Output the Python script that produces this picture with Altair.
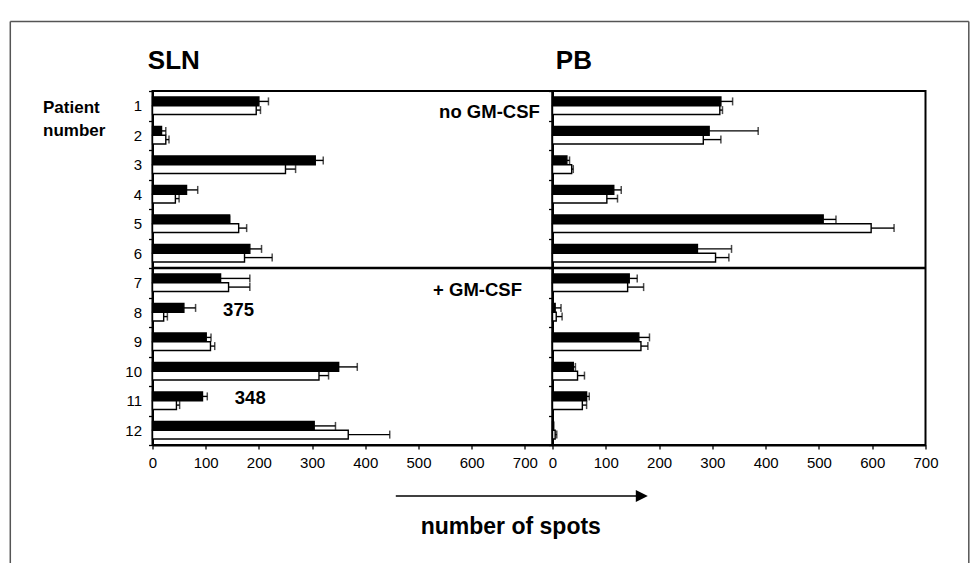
import altair as alt
import pandas as pd

# ---------------- data ----------------
patients = list(range(1, 13))
series_names = ["black", "white"]

# SLN panel (number of spots) and SD (error-bar length)
sln_black = [200, 17, 306, 64, 145, 183, 128, 59, 101, 350, 94, 304]
sln_black_sd = [18, 8, 15, 21, 0, 22, 55, 22, 9, 35, 9, 40]
sln_white = [195, 25, 250, 43, 162, 173, 143, 21, 109, 313, 45, 368]
sln_white_sd = [8, 6, 19, 7, 15, 52, 40, 7, 8, 18, 6, 78]

# PB panel
pb_black = [316, 294, 27, 115, 508, 272, 144, 5, 162, 39, 64, 2]
pb_black_sd = [22, 92, 5, 14, 24, 64, 15, 11, 20, 4, 5, 0]
pb_white = [314, 283, 36, 102, 598, 306, 141, 7, 166, 47, 56, 5]
pb_white_sd = [5, 33, 3, 20, 43, 25, 30, 11, 13, 13, 8, 3]

x_ticks = [0, 100, 200, 300, 400, 500, 600, 700]
panel_titles = ["SLN", "PB"]
group_labels = ["no GM-CSF", "+ GM-CSF"]
off_scale_labels = ["375", "348"]
x_title = "number of spots"
y_title = ["Patient", "number"]
divider_before = [7]

FONT = "Liberation Sans"
H = 354


def long_df(black, black_sd, white, white_sd):
    rows = []
    for i, p in enumerate(patients):
        rows.append(dict(patient=p, series="black", value=black[i], hi=black[i] + black_sd[i]))
        rows.append(dict(patient=p, series="white", value=white[i], hi=white[i] + white_sd[i]))
    return pd.DataFrame(rows)


def one(text):
    return pd.DataFrame({"t": [text]})


def panel(df, xmax, width, left):
    yscale = alt.Scale(domain=patients, paddingInner=0, paddingOuter=0)
    common = dict(
        tickBand="extent", tickSize=4, tickColor="black", tickWidth=1.3,
        domainColor="black", domainWidth=2,
        labelFont=FONT, labelFontSize=15, labelColor="black", labelPadding=7,
        labelAngle=0,
    )
    if left:
        yax = alt.Axis(
            **common,
            title=y_title, titleAngle=0, titleAlign="left", titleBaseline="alphabetic",
            titleX=-110, titleY=21.7, titleFont=FONT, titleFontSize=17,
            titleFontWeight="bold", titleColor="black", titleLineHeight=23,
        )
    else:
        yax = alt.Axis(**common, labels=False)
    y = alt.Y("patient:O", scale=yscale, axis=yax, title=y_title if left else None)
    yoff = alt.YOffset("series:N", scale=alt.Scale(domain=series_names, paddingInner=0, paddingOuter=0.7))
    x = alt.X(
        "value:Q", title=None,
        scale=alt.Scale(domain=[0, xmax], nice=False, zero=True),
        axis=alt.Axis(values=x_ticks, tickSize=4, tickColor="black", tickWidth=1.3,
                      domainColor="black", domainWidth=2, grid=False,
                      labelFlush=False, labelOverlap=False,
                      labelFont=FONT, labelFontSize=15, labelColor="black", labelPadding=6),
    )
    base = alt.Chart(df)
    bars = base.mark_bar(stroke="black", strokeWidth=1.4).encode(
        x=x, y=y, yOffset=yoff,
        fill=alt.Fill("series:N", scale=alt.Scale(domain=series_names, range=["black", "white"]), legend=None),
    )
    err = base.mark_rule(color="black", strokeWidth=1.4).encode(
        x="value:Q", x2="hi:Q", y="patient:O", yOffset="series:N"
    )
    caps = base.mark_tick(color="black", thickness=1.5, size=8, orient="vertical").encode(
        x="hi:Q", y="patient:O", yOffset="series:N"
    )
    divider = alt.Chart(pd.DataFrame({"patient": divider_before})).mark_rule(
        color="black", strokeWidth=2.5
    ).encode(y=alt.Y("patient:O", bandPosition=0))

    layers = [bars, err, caps, divider]
    frame_color = "#555555"
    txt = dict(font=FONT, fontWeight="bold", baseline="alphabetic", color="black")
    if left:
        layers += [
            alt.Chart(one(panel_titles[0])).mark_text(fontSize=26, align="left", **txt)
            .encode(text="t:N", x=alt.value(-4.7), y=alt.value(-22)),
            alt.Chart(one(group_labels[0])).mark_text(fontSize=18.5, align="right", **txt)
            .encode(text="t:N", x=alt.value(387.3), y=alt.value(27.3)),
            alt.Chart(one(group_labels[1])).mark_text(fontSize=18.5, align="left", **txt)
            .encode(text="t:N", x=alt.value(280.6), y=alt.value(205)),
            alt.Chart(one(off_scale_labels[0])).mark_text(fontSize=18.5, align="left", **txt)
            .encode(text="t:N", x=alt.value(70.6), y=alt.value(225)),
            alt.Chart(one(off_scale_labels[1])).mark_text(fontSize=18.5, align="left", **txt)
            .encode(text="t:N", x=alt.value(82.3), y=alt.value(313.3)),
            alt.Chart(one(x_title)).mark_text(fontSize=23, align="center", **txt)
            .encode(text="t:N", x=alt.value(358.3), y=alt.value(443.3)),
            # arrow
            alt.Chart(one("arrow")).mark_rule(color="black", strokeWidth=1.5).encode(
                x=alt.value(243.3), x2=alt.value(484), y=alt.value(405)
            ),
            alt.Chart(one("head")).mark_point(
                shape="M-1,-1L1,0L-1,1Z", filled=True, size=144, color="black", opacity=1
            ).encode(x=alt.value(489.3), y=alt.value(405)),
            # outer frame (top + left)
            alt.Chart(one("ft")).mark_rule(color=frame_color, strokeWidth=1.5).encode(
                x=alt.value(-142.2), x2=alt.value(816.3), y=alt.value(-69.5)
            ),
            alt.Chart(one("fl")).mark_rule(color=frame_color, strokeWidth=1.5).encode(
                x=alt.value(-142.2), y=alt.value(-69.5), y2=alt.value(473)
            ),
        ]
    else:
        layers += [
            alt.Chart(one(panel_titles[1])).mark_text(fontSize=26, align="left", **txt)
            .encode(text="t:N", x=alt.value(3.3), y=alt.value(-22)),
            alt.Chart(one("fr")).mark_rule(color=frame_color, strokeWidth=1.5).encode(
                x=alt.value(416.3), y=alt.value(-69.5), y2=alt.value(473)
            ),
        ]
    return alt.layer(*layers).properties(width=width, height=H)


left = panel(long_df(sln_black, sln_black_sd, sln_white, sln_white_sd), 752, 400, True)
right = panel(long_df(pb_black, pb_black_sd, pb_white, pb_white_sd), 700, 373, False)

chart = (
    alt.hconcat(left, right, spacing=0, bounds="flush")
    .properties(
        padding={"left": 8.5, "top": 19, "right": 0, "bottom": 0},
        autosize=alt.AutoSizeParams(type="pad"),
        background="white",
    )
    .configure_view(stroke="black", strokeWidth=2)
    .configure_axis(grid=False)
)

chart.save("out.html", embed_options={"renderer": "svg", "actions": False})
